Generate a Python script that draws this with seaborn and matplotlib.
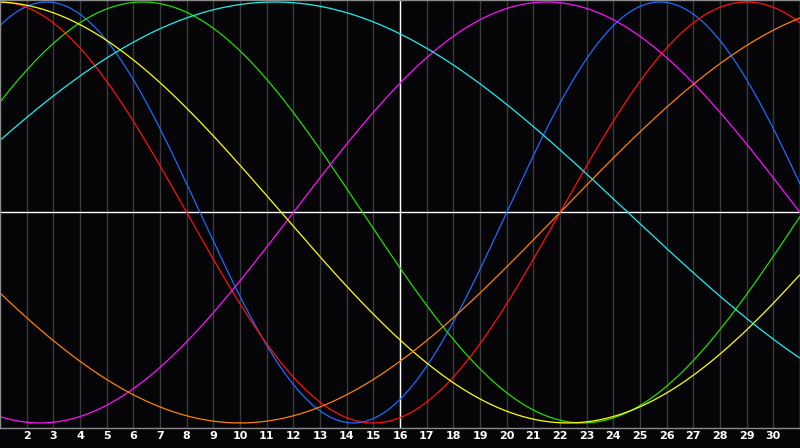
import numpy as np
import pandas as pd
import matplotlib
matplotlib.use("Agg")
import matplotlib.pyplot as plt
import seaborn as sns

# Biorhythm cycles: period (days) and the day of zero-crossing (rising)
cycles = ["Physical", "Emotional", "Intellectual", "Intuitive", "Aesthetic", "Awareness", "Spiritual"]
periods = [23, 28, 33, 38, 43, 48, 53]
rising_zero_day = [20.0, 22.0, -1.9, 12.0, -9.95, 22.0, -1.95]
colors = ["#1a6cff", "#ff1010", "#22dd00", "#ff10ff", "#ffff00", "#ff8000", "#20eeee"]

day_labels = list(range(2, 31))
first_day, last_day = 1, 31
today = 16

days = np.linspace(first_day, last_day, 601)
rows = []
for name, p, z in zip(cycles, periods, rising_zero_day):
    vals = np.sin(2 * np.pi * (days - z) / p)
    rows.append(pd.DataFrame({"day": days, "value": vals, "cycle": name}))
df = pd.concat(rows, ignore_index=True)

sns.set_theme(style="dark")
bg = "#050508"
fig = plt.figure(figsize=(8, 4.48), dpi=100, facecolor=bg)
ax = fig.add_axes([0.0, 20 / 448, 1.0, 428 / 448])
ax.set_facecolor(bg)

for d in day_labels:
    ax.axvline(d, color="#3a3a3a", lw=1.0, zorder=0)
ax.axvline(today, color="white", lw=1.0, zorder=1)
ax.axhline(0, color="white", lw=1.0, zorder=1)

sns.lineplot(data=df, x="day", y="value", hue="cycle", palette=dict(zip(cycles, colors)),
             linewidth=0.9, legend=False, ax=ax, zorder=2, sort=True)

ax.set_xlim(first_day, last_day)
ax.set_ylim(-1.024, 1.0095)
ax.set_xticks(day_labels)
ax.set_xticklabels([str(d) for d in day_labels], color="white", fontweight="bold",
                   fontsize=8, family="DejaVu Sans")
ax.set_yticks([])
ax.tick_params(axis="x", length=0, pad=2.5)
ax.set_xlabel("")
ax.set_ylabel("")
ax.grid(False)
for s in ax.spines.values():
    s.set_visible(True)
    s.set_color("#8a8a8a")
    s.set_linewidth(1.0)

fig.savefig("out.png", dpi=100, facecolor=bg)
